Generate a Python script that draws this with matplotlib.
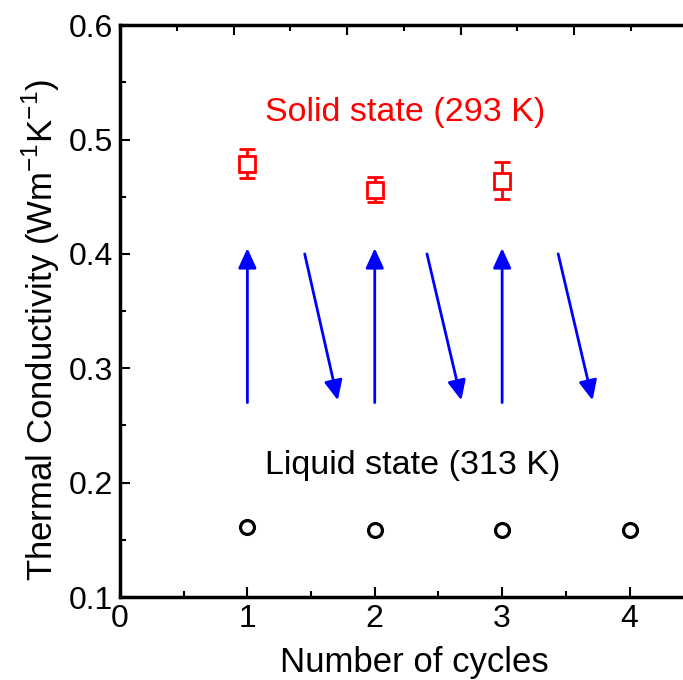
import numpy as np
import matplotlib.pyplot as plt
from matplotlib.ticker import MultipleLocator

plt.rcParams['font.family'] = ['Liberation Sans', 'DejaVu Sans']
plt.rcParams['mathtext.fontset'] = 'custom'
plt.rcParams['mathtext.rm'] = 'Liberation Sans'

# solid state (293 K)
solid_x = [1, 2, 3]
solid_y = [0.479, 0.456, 0.464]
solid_err = [0.013, 0.011, 0.016]

# liquid state (313 K)
liquid_x = [1, 2, 3, 4]
liquid_y = [0.161, 0.159, 0.159, 0.159]

# heating / cooling arrows: (x0, y0, x1, y1)
up_arrows = [(1, 0.27, 1, 0.405), (2, 0.27, 2, 0.405), (3, 0.27, 3, 0.405)]
down_arrows = [(1.45, 0.40, 1.71, 0.272), (2.41, 0.40, 2.68, 0.272), (3.44, 0.40, 3.71, 0.272)]

fig = plt.figure(figsize=(6.83, 6.8), dpi=100)
ax = fig.add_axes([0.1757, 0.122, 0.8243, 0.841])

ax.errorbar(solid_x, solid_y, yerr=solid_err, fmt='s', mfc='white', mec='red',
            ecolor='red', mew=2.0, ms=11, elinewidth=2.0, capsize=6, capthick=2.0)
ax.plot(liquid_x, liquid_y, 'o', mfc='white', mec='black', mew=2.3, ms=10)

for x0, y0, x1, y1 in up_arrows + down_arrows:
    ax.annotate('', xy=(x1, y1), xytext=(x0, y0),
                arrowprops=dict(arrowstyle='-|>,head_length=1.2,head_width=0.55',
                                color='blue', lw=2.0, shrinkA=0, shrinkB=0))

ax.text(1.14, 0.524, 'Solid state (293 K)', color='red', fontsize=24.5, va='center')
ax.text(1.14, 0.215, 'Liquid state (313 K)', color='black', fontsize=24.5, va='center')

ax.set_xlim(0, 4.42)
ax.set_ylim(0.1, 0.6)
ax.xaxis.set_major_locator(MultipleLocator(1))
ax.xaxis.set_minor_locator(MultipleLocator(0.5))
ax.yaxis.set_minor_locator(MultipleLocator(0.05))
ax.set_yticks([0.1, 0.2, 0.3, 0.4, 0.5, 0.6])
ax.set_yticklabels(['0.1', '0.2', '0.3', '0.4', '0.5', '0.6'])
ax.tick_params(which='both', direction='in', labelsize=23, width=1.5, pad=5)
ax.tick_params(which='major', length=7)
ax.tick_params(which='minor', length=4)
ax.spines['right'].set_visible(False)
for s in ['left', 'bottom', 'top']:
    ax.spines[s].set_linewidth(2.5)

ax.set_xlabel('Number of cycles', fontsize=25, labelpad=9)
ax.set_ylabel('Thermal Conductivity (Wm$^{-1}$K$^{-1}$)', fontsize=25, labelpad=5)
ax.xaxis.label.set_x(0.522)
ax.yaxis.label.set_y(0.467)

# top axis ticks
top = ax.twiny()
top.set_xlim(0, 4.96)
top.xaxis.set_major_locator(MultipleLocator(1))
top.xaxis.set_minor_locator(MultipleLocator(0.5))
top.tick_params(which='both', direction='in', labeltop=False, width=1.5)
top.tick_params(which='major', length=7)
top.tick_params(which='minor', length=4)
top.spines['right'].set_visible(False)

plt.savefig('out.png', dpi=100)
